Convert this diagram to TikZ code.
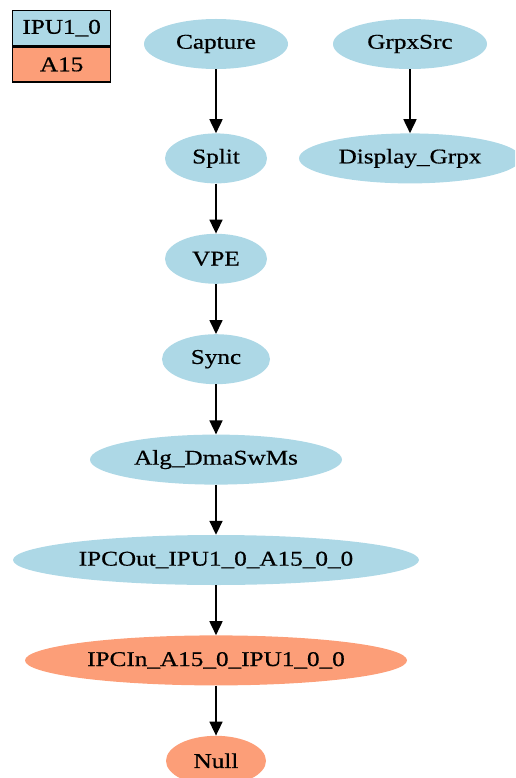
\documentclass[tikz,border=0pt]{standalone}
\usepackage{fontspec}
\setmainfont{Liberation Serif}[FakeStretch=1.2, FakeBold=0.6]
\usepackage{xcolor}
\definecolor{ipublue}{RGB}{173, 216, 230}
\definecolor{aftsalmon}{RGB}{252, 158, 120}
\usepackage{tikz}
\usetikzlibrary{shapes.geometric,arrows.meta,positioning}

\begin{document}
\begin{tikzpicture}[
    x=1pt, y=1pt,
    node distance=50pt,
    every node/.style={font=\fontsize{21}{25}\selectfont},
    ipu/.style={ellipse, fill=ipublue, inner sep=0pt, minimum height=50pt},
    aft/.style={ellipse, fill=aftsalmon, inner sep=0pt, minimum height=50pt},
    legend/.style={rectangle, draw, line width=1.3pt, inner sep=0pt, minimum width=98pt, minimum height=35pt},
    arrow/.style={-{Triangle[length=14pt,width=13pt]}, line width=1.7pt}
]
\useasboundingbox (0,0) rectangle (515,-778);
\clip (0,0) rectangle (515,-778);

% legend
\node[legend, fill=ipublue, anchor=north west] (leg_ipu) at (12,-10) {IPU1\_0};
\node[legend, fill=aftsalmon, below=0pt of leg_ipu] (leg_a15) {A15};

% main chain
\node[ipu, minimum width=144pt] (capture) at (216,-44) {Capture};
\node[ipu, minimum width=102pt, below=64pt of capture] (split) {Split};
\node[ipu, minimum width=102pt, below=of split] (vpe) {VPE};
\node[ipu, minimum width=108pt, below=of vpe] (sync) {Sync};
\node[ipu, minimum width=252pt, below=of sync] (alg) {Alg\_DmaSwMs};
\node[ipu, minimum width=406pt, below=of alg] (ipcout) {IPCOut\_IPU1\_0\_A15\_0\_0};
\node[aft, minimum width=382pt, below=of ipcout] (ipcin) {IPCIn\_A15\_0\_IPU1\_0\_0};
\node[aft, minimum width=100pt, below=of ipcin] (null) {Null};

% graphics chain
\node[ipu, minimum width=154pt] (grpxsrc) at (410,-44) {GrpxSrc};
\node[ipu, minimum width=222pt, below=64pt of grpxsrc] (display) {Display\_Grpx};

\draw[arrow] (capture) -- (split);
\draw[arrow] (split) -- (vpe);
\draw[arrow] (vpe) -- (sync);
\draw[arrow] (sync) -- (alg);
\draw[arrow] (alg) -- (ipcout);
\draw[arrow] (ipcout) -- (ipcin);
\draw[arrow] (ipcin) -- (null);
\draw[arrow] (grpxsrc) -- (display);

\end{tikzpicture}
\end{document}
